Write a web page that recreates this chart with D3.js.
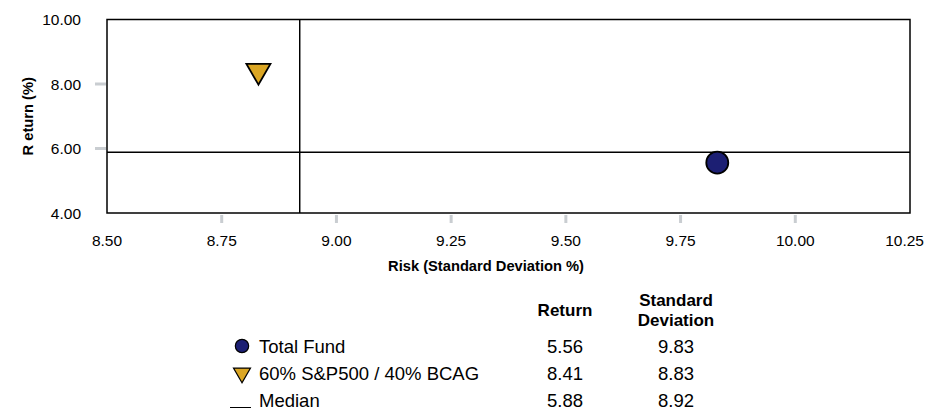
<!DOCTYPE html>
<meta charset="utf-8">
<style>
body { margin: 0; background: #fff; }
svg text { font-family: "Liberation Sans", Arial, sans-serif; fill: #000; }
.tick-lbl { font-size: 15.5px; }
.ttl { font-size: 14.7px; font-weight: bold; }
.legend text { font-size: 18.5px; }
.legend .hdr { font-size: 17px; font-weight: bold; }
</style>
<svg width="925" height="412"></svg>
<script src="https://d3js.org/d3.v7.min.js"></script>
<script>
var names = ["Total Fund", "60% S&P500 / 40% BCAG"];
var returns = [5.56, 8.41];
var risks = [9.83, 8.83];
var shapes = ["circle", "triangle"];
var fills = ["#1c1f73", "#dba623"];
var medianReturn = 5.88;
var medianRisk = 8.92;
var xTicks = [8.50, 8.75, 9.00, 9.25, 9.50, 9.75, 10.00, 10.25];
var yTicks = [4.00, 6.00, 8.00, 10.00];

var svg = d3.select("svg");
var x = d3.scaleLinear().domain([8.5, 10.25]).range([107, 910]);
var y = d3.scaleLinear().domain([4, 10]).range([213, 19.5]);

// gray tick marks, interior only
svg.append("g").selectAll("line")
    .data(xTicks.slice(1, -1))
    .enter().append("line")
      .attr("x1", function(d) { return x(d); })
      .attr("x2", function(d) { return x(d); })
      .attr("y1", 215).attr("y2", 223)
      .attr("stroke", "#c9cdd1").attr("stroke-width", 3);
svg.append("g").selectAll("line")
    .data(yTicks.slice(1, -1))
    .enter().append("line")
      .attr("x1", 95).attr("x2", 106)
      .attr("y1", function(d) { return y(d); })
      .attr("y2", function(d) { return y(d); })
      .attr("stroke", "#c9cdd1").attr("stroke-width", 3);

var last = xTicks[xTicks.length - 1];
svg.append("g").selectAll("text")
    .data(xTicks)
    .enter().append("text")
      .attr("class", "tick-lbl")
      .attr("x", function(d) { return d === last ? 924 : x(d); })
      .attr("y", 246)
      .attr("text-anchor", function(d) { return d === last ? "end" : "middle"; })
      .text(function(d) { return d.toFixed(2); });
svg.append("g").selectAll("text")
    .data(yTicks)
    .enter().append("text")
      .attr("class", "tick-lbl")
      .attr("x", 81)
      .attr("y", function(d) { return y(d) + 5.5; })
      .attr("text-anchor", "end")
      .text(function(d) { return d.toFixed(2); });

// plot frame
svg.append("rect")
    .attr("x", x(8.5)).attr("y", y(10))
    .attr("width", x(10.25) - x(8.5))
    .attr("height", y(4) - y(10))
    .attr("fill", "none").attr("stroke", "#000").attr("stroke-width", 1.5);

// median lines
svg.append("line")
    .attr("x1", x(medianRisk)).attr("x2", x(medianRisk))
    .attr("y1", y(10)).attr("y2", y(4))
    .attr("stroke", "#000").attr("stroke-width", 1.5);
svg.append("line")
    .attr("x1", x(8.5)).attr("x2", x(10.25))
    .attr("y1", y(medianReturn)).attr("y2", y(medianReturn))
    .attr("stroke", "#000").attr("stroke-width", 1.5);

function symPath(shape, size) {
  var t = shape === "circle" ? d3.symbolCircle : d3.symbolTriangle;
  return d3.symbol().type(t).size(size)();
}

var pts = names.map(function(n, i) {
  return { name: n, ret: returns[i], risk: risks[i], shape: shapes[i], fill: fills[i] };
});

svg.append("g").selectAll("path")
    .data(pts)
    .enter().append("path")
      .attr("d", function(d) { return symPath(d.shape, d.shape === "circle" ? 380 : 250); })
      .attr("transform", function(d) {
        return "translate(" + x(d.risk) + "," + y(d.ret) + ")" + (d.shape === "triangle" ? " rotate(180)" : "");
      })
      .attr("fill", function(d) { return d.fill; })
      .attr("stroke", "#000").attr("stroke-width", 1.8);

// axis titles
svg.append("text").attr("class", "ttl")
    .attr("x", 486).attr("y", 271)
    .attr("text-anchor", "middle")
    .text("Risk (Standard Deviation %)");
svg.append("text").attr("class", "ttl")
    .attr("transform", "translate(33," + ((y(4) + y(10)) / 2) + ") rotate(-90)")
    .attr("text-anchor", "middle")
    .text("R eturn (%)");

// legend table
var colRet = 565, colSd = 676;
var lg = svg.append("g").attr("class", "legend");
lg.append("text").attr("class", "hdr").attr("x", colRet).attr("y", 316).attr("text-anchor", "middle").text("Return");
lg.append("text").attr("class", "hdr").attr("x", colSd).attr("y", 306).attr("text-anchor", "middle").text("Standard");
lg.append("text").attr("class", "hdr").attr("x", colSd).attr("y", 326).attr("text-anchor", "middle").text("Deviation");

var rows = pts.concat([{ name: "Median", ret: medianReturn, risk: medianRisk, shape: "line" }]);
var row = lg.selectAll("g.row")
    .data(rows)
    .enter().append("g")
      .attr("class", "row")
      .attr("transform", function(d, i) { return "translate(0," + (346 + i * 27) + ")"; });
row.filter(function(d) { return d.shape !== "line"; })
    .append("path")
      .attr("d", function(d) { return symPath(d.shape, d.shape === "circle" ? 140 : 125); })
      .attr("transform", function(d) { return "translate(242,0)" + (d.shape === "triangle" ? " rotate(180)" : ""); })
      .attr("fill", function(d) { return d.fill; })
      .attr("stroke", "#000").attr("stroke-width", 1.2);
row.filter(function(d) { return d.shape === "line"; })
    .append("line")
      .attr("x1", 230).attr("x2", 251).attr("y1", 7.5).attr("y2", 7.5)
      .attr("stroke", "#000").attr("stroke-width", 1);
row.append("text").attr("x", 259).attr("y", 6.5).text(function(d) { return d.name; });
row.append("text").attr("x", colRet).attr("y", 6.5).attr("text-anchor", "middle").text(function(d) { return d.ret.toFixed(2); });
row.append("text").attr("x", colSd).attr("y", 6.5).attr("text-anchor", "middle").text(function(d) { return d.risk.toFixed(2); });
</script>
